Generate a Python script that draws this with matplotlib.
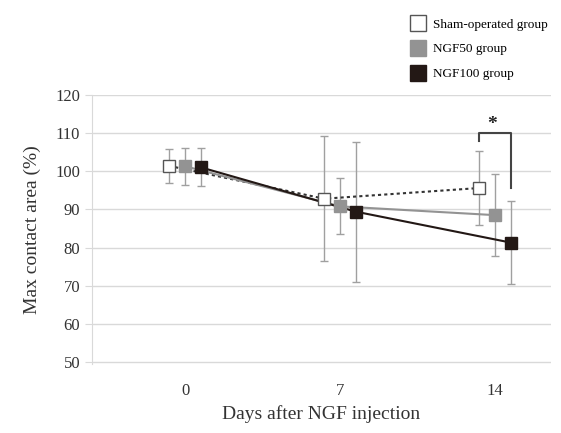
import numpy as np
import matplotlib.pyplot as plt

plt.rcParams['font.family'] = ['Liberation Serif', 'DejaVu Serif']

days = ['0', '7', '14']
groups = ['Sham-operated group', 'NGF50 group', 'NGF100 group']

sham_mean = [101.4, 92.8, 95.6]
sham_err = [4.5, 16.3, 9.7]
ngf50_mean = [101.3, 90.8, 88.5]
ngf50_err = [4.8, 7.3, 10.7]
ngf100_mean = [101.0, 89.4, 81.3]
ngf100_err = [5.0, 18.3, 10.9]

means = [sham_mean, ngf50_mean, ngf100_mean]
errs = [sham_err, ngf50_err, ngf100_err]
offsets = [-0.103, 0.0, 0.103]
face = ['white', '#939393', '#231815']
edge = ['#555555', '#939393', '#231815']
line_col = ['#333333', '#939393', '#231815']
line_sty = [(0, (1.5, 1.5)), '-', '-']

fig = plt.figure(figsize=(5.61, 4.33), dpi=100)
ax = fig.add_axes([0.164, 0.160, 0.818, 0.621])

x = np.arange(len(days))
handles = []
for i in range(3):
    xs = x + offsets[i]
    ax.errorbar(xs, means[i], yerr=errs[i], fmt='none', ecolor='#a0a0a0',
                elinewidth=1, capsize=3, capthick=1, zorder=2)
    ax.plot(xs, means[i], color=line_col[i], linestyle=line_sty[i], lw=1.5, zorder=3)
    h, = ax.plot(xs, means[i], 's', ms=8.5, mfc=face[i], mec=edge[i], mew=1,
                 linestyle='none', zorder=4)
    handles.append(h)

# significance bracket between sham and NGF100 at day 14
xl = x[2] + offsets[0]
xr = x[2] + offsets[2]
ax.plot([xl, xl, xr, xr], [107.8, 110, 110, 95.6], color='#444444', lw=1.5, zorder=5)
ax.text((xl + xr) / 2 - 0.02, 112.3, '*', ha='center', va='center', fontsize=14,
        fontweight='bold', color='#222222')

ax.set_xlim(-0.6, 2.36)
ax.set_ylim(49.6, 120)
ax.set_yticks(range(50, 121, 10))
ax.set_xticks(x)
ax.set_xticklabels(days)
ax.yaxis.grid(True, color='#d9d9d9', lw=1)
ax.set_axisbelow(True)
for s in ['top', 'right', 'bottom']:
    ax.spines[s].set_visible(False)
ax.spines['left'].set_color('#d9d9d9')
ax.tick_params(axis='y', colors='#d9d9d9', length=5, labelcolor='#333333', labelsize=12)
ax.tick_params(axis='x', length=0, labelcolor='#333333', labelsize=12, pad=14)
ax.set_ylabel('Max contact area (%)', fontsize=14, color='#333333', labelpad=10)
ax.set_xlabel('Days after NGF injection', fontsize=14, color='#333333', labelpad=4)

fig.legend(handles, groups, loc='upper left', bbox_to_anchor=(0.71, 0.985),
           frameon=False, fontsize=9.5, handletextpad=0.5, labelspacing=0.95,
           handlelength=1.2, markerscale=1.35)

fig.savefig('out.png', dpi=100)
